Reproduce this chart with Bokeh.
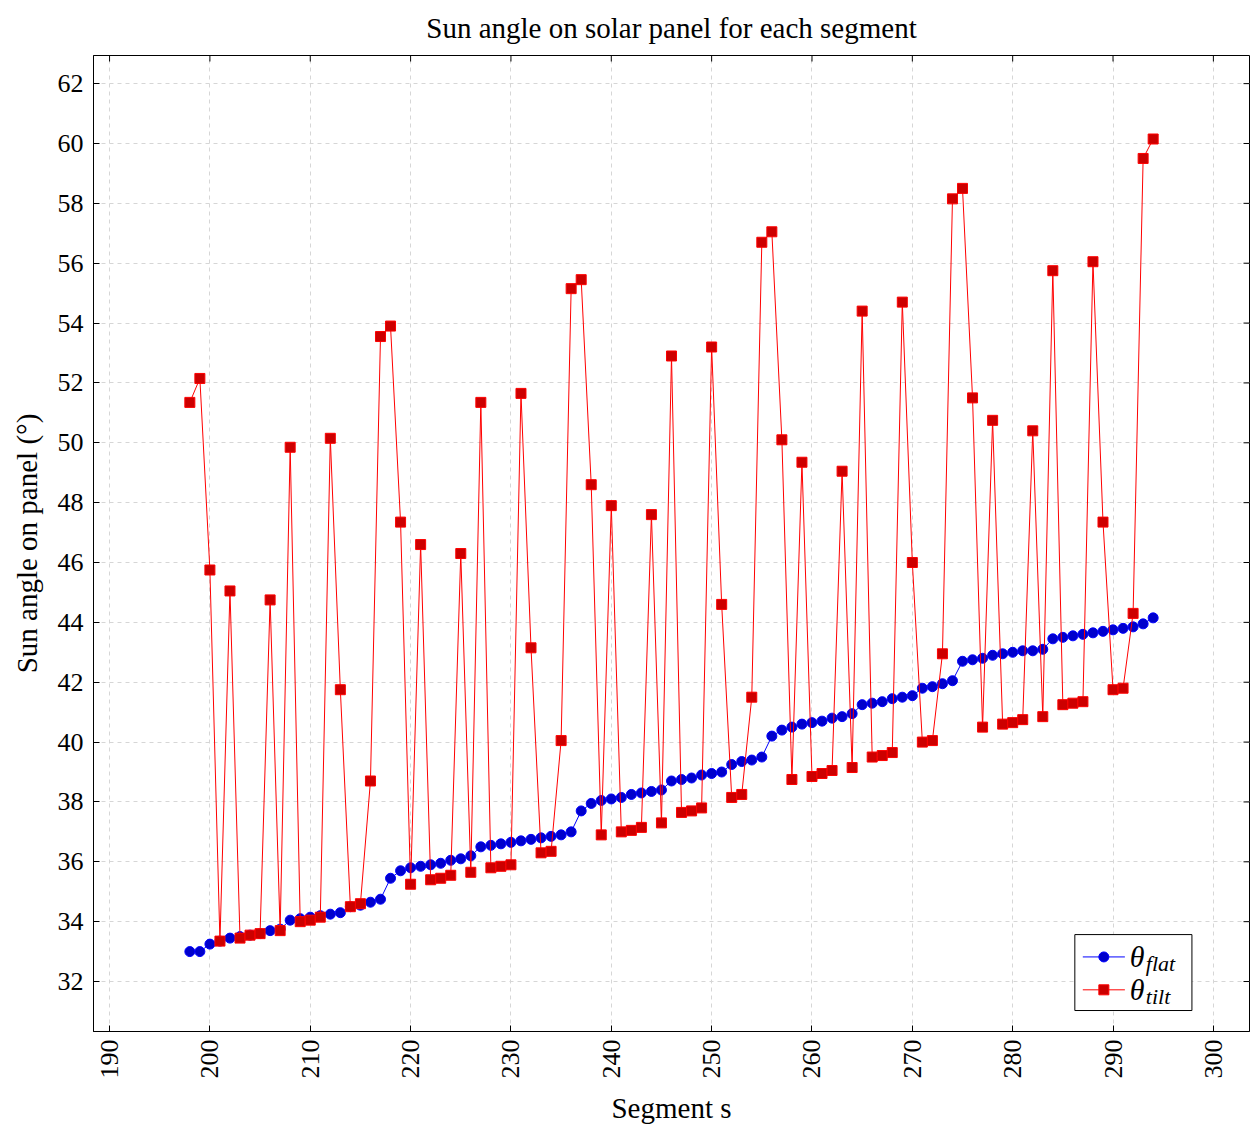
import math
from bokeh.plotting import figure
from bokeh.models import FixedTicker, Range1d, Label
from bokeh.embed import file_html
from bokeh.resources import INLINE

segments = list(range(198, 295))
theta_flat = [
    33.0, 33.0, 33.25, 33.35, 33.45, 33.5, 33.55, 33.6, 33.7, 33.75,
    34.05, 34.1, 34.15, 34.2, 34.25, 34.3, 34.5, 34.55, 34.65, 34.75,
    35.45, 35.7, 35.8, 35.85, 35.9, 35.95, 36.05, 36.1, 36.2, 36.5,
    36.55, 36.6, 36.65, 36.7, 36.75, 36.8, 36.85, 36.9, 37.0, 37.7,
    37.95, 38.05, 38.1, 38.15, 38.25, 38.3, 38.35, 38.4, 38.7, 38.75,
    38.8, 38.9, 38.95, 39.0, 39.25, 39.35, 39.4, 39.5, 40.2, 40.4,
    40.5, 40.6, 40.65, 40.7, 40.8, 40.85, 40.95, 41.25, 41.3, 41.35,
    41.45, 41.5, 41.55, 41.8, 41.85, 41.95, 42.05, 42.7, 42.75, 42.8,
    42.9, 42.95, 43.0, 43.05, 43.05, 43.1, 43.45, 43.5, 43.55, 43.6,
    43.65, 43.7, 43.75, 43.8, 43.85, 43.95, 44.15,
]
theta_tilt = [
    51.35, 52.15, 45.75, 33.35, 45.05, 33.45, 33.55, 33.6, 44.75, 33.7,
    49.85, 34.0, 34.05, 34.15, 50.15, 41.75, 34.5, 34.6, 38.7, 53.55,
    53.9, 47.35, 35.25, 46.6, 35.4, 35.45, 35.55, 46.3, 35.65, 51.35,
    35.8, 35.85, 35.9, 51.65, 43.15, 36.3, 36.35, 40.05, 55.15, 55.45,
    48.6, 36.9, 47.9, 37.0, 37.05, 37.15, 47.6, 37.3, 52.9, 37.65,
    37.7, 37.8, 53.2, 44.6, 38.15, 38.25, 41.5, 56.7, 57.05, 50.1,
    38.75, 49.35, 38.85, 38.95, 39.05, 49.05, 39.15, 54.4, 39.5, 39.55,
    39.65, 54.7, 46.0, 40.0, 40.05, 42.95, 58.15, 58.5, 51.5, 40.5,
    50.75, 40.6, 40.65, 40.75, 50.4, 40.85, 55.75, 41.25, 41.3, 41.35,
    56.05, 47.35, 41.75, 41.8, 44.3, 59.5, 60.15,
]
x_ticks = list(range(190, 301, 10))
y_ticks = list(range(32, 63, 2))
title_text = "Sun angle on solar panel for each segment"
x_label = "Segment s"
y_label = "Sun angle on panel (°)"
legend_symbol = "θ"
legend_subs = ["flat", "tilt"]

FONT = "Liberation Serif"
BLUE_LINE, BLUE_FILL = "#0000ff", "#0000cc"
RED_LINE, RED_FILL = "#ff0000", "#cc0000"

x0, x1 = 188.4, 303.6
y0, y1 = 30.33, 62.94
FRAME_W, FRAME_H = 1156, 976
TICK_PX = 6

p = figure(width=1256, height=1129, output_backend="svg", toolbar_location=None,
           x_range=Range1d(x0, x1), y_range=Range1d(y0, y1),
           min_border_left=93, min_border_right=7, min_border_top=55,
           min_border_bottom=98, title=title_text)
p.background_fill_color = "white"
p.border_fill_color = "white"
p.outline_line_color = "black"
p.outline_line_width = 1

p.title.text_font = FONT
p.title.text_font_size = "29px"
p.title.text_font_style = "normal"
p.title.text_color = "black"
p.title.align = "center"
p.title.vertical_align = "top"
p.title.standoff = 20

for ax, ticks in ((p.xaxis[0], x_ticks), (p.yaxis[0], y_ticks)):
    ax.ticker = FixedTicker(ticks=ticks, minor_ticks=[])
    ax.major_tick_in = TICK_PX
    ax.major_tick_out = 0
    ax.major_tick_line_color = "black"
    ax.axis_line_color = "black"
    ax.major_label_text_font = FONT
    ax.major_label_text_font_size = "26px"
    ax.major_label_text_color = "black"
    ax.axis_label_text_font = FONT
    ax.axis_label_text_font_size = "29px"
    ax.axis_label_text_font_style = "normal"
    ax.axis_label_text_color = "black"

p.xaxis.major_label_orientation = math.pi / 2
p.xaxis.axis_label = x_label
p.xaxis.major_label_standoff = 8
p.xaxis.axis_label_standoff = 10
p.yaxis.axis_label = y_label
p.yaxis.major_label_standoff = 10
p.yaxis.axis_label_standoff = 12

for g, ticks in ((p.xgrid[0], x_ticks), (p.ygrid[0], y_ticks)):
    g.ticker = FixedTicker(ticks=ticks, minor_ticks=[])
    g.grid_line_color = "#d6d6d6"
    g.grid_line_dash = "4 4"
    g.grid_line_width = 1

# inward ticks on the top and right frame edges (mirroring the bottom/left axes)
dx_tick = TICK_PX * (x1 - x0) / FRAME_W
dy_tick = TICK_PX * (y1 - y0) / FRAME_H
p.segment(x0=x_ticks, y0=[y1] * len(x_ticks), x1=x_ticks,
          y1=[y1 - dy_tick] * len(x_ticks), line_color="black", line_width=1)
p.segment(x0=[x1] * len(y_ticks), y0=y_ticks, x1=[x1 - dx_tick] * len(y_ticks),
          y1=y_ticks, line_color="black", line_width=1)

p.line(segments, theta_flat, line_color=BLUE_LINE, line_width=1)
p.scatter(segments, theta_flat, marker="circle", size=10, fill_color=BLUE_FILL,
          line_color=BLUE_LINE, line_width=1)
p.line(segments, theta_tilt, line_color=RED_LINE, line_width=1)
p.scatter(segments, theta_tilt, marker="square", size=10, fill_color=RED_FILL,
          line_color=RED_LINE, line_width=1)

# custom legend (bottom right), positioned as fractions of the axis ranges
sx = x1 - x0
sy = y1 - y0
def fx(f):
    return x0 + f * sx
def fy(f):
    return y0 + f * sy

p.quad(left=[fx(0.8489)], right=[fx(0.9502)], bottom=[fy(0.0215)], top=[fy(0.0993)],
       fill_color="white", line_color="black", line_width=1)
rows = [(fy(0.0764), BLUE_LINE, BLUE_FILL, "circle"),
        (fy(0.0427), RED_LINE, RED_FILL, "square")]
for (ry, lc, fc, mk), sub in zip(rows, legend_subs):
    p.line([fx(0.8558), fx(0.8922)], [ry, ry], line_color=lc, line_width=1)
    p.scatter([fx(0.8740)], [ry], marker=mk, size=10, fill_color=fc, line_color=lc)
    p.add_layout(Label(x=fx(0.8965), y=ry, text=legend_symbol, text_font=FONT,
                       text_font_size="30px", text_font_style="italic",
                       text_baseline="middle", text_color="black"))
    p.add_layout(Label(x=fx(0.8965), y=ry, x_offset=16, y_offset=-7, text=sub,
                       text_font=FONT, text_font_size="22px", text_font_style="italic",
                       text_baseline="middle", text_color="black"))

open("out.html", "w").write(file_html(p, INLINE))
